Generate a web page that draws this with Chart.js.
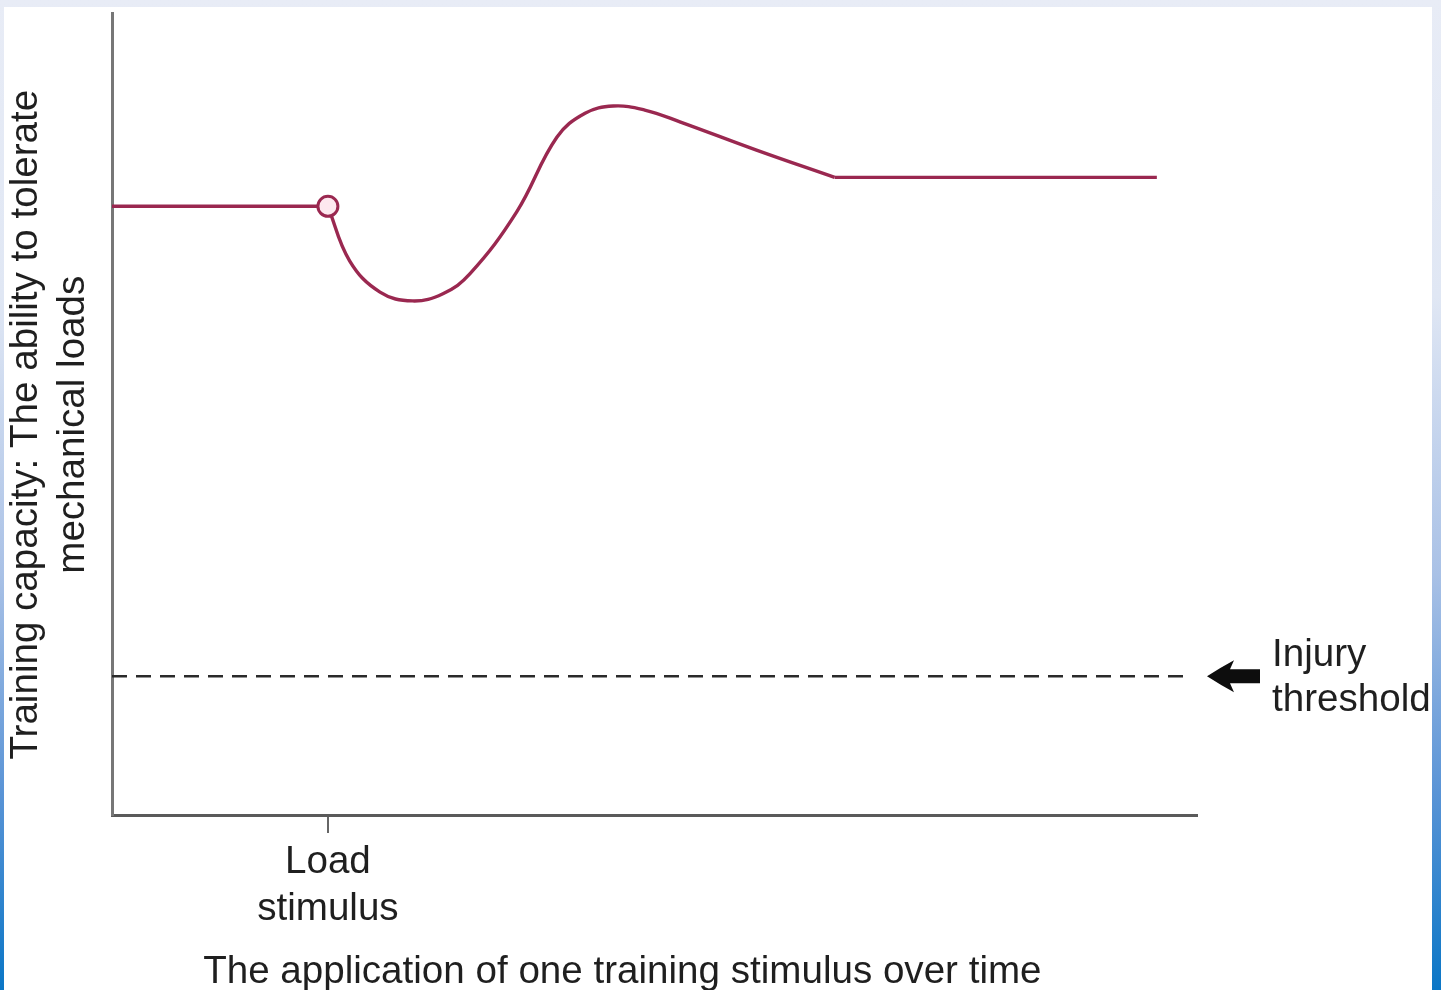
<!DOCTYPE html>
<html>
<head>
<meta charset="utf-8">
<script src="https://cdn.jsdelivr.net/npm/chart.js@4/dist/chart.umd.min.js"></script>
<style>
  html, body { margin: 0; padding: 0; }
  body {
    width: 1441px; height: 990px; overflow: hidden; position: relative;
    background: linear-gradient(to bottom, #e8ecf6 0%, #e0e7f4 30%, #a9c1e6 58%, #5a94d6 80%, #0a76c6 100%);
  }
  #panel { position: absolute; left: 4px; top: 7px; width: 1428px; height: 983px; background: #ffffff; overflow: hidden; }
  #c { position: absolute; left: -4px; top: -7px; }
</style>
</head>
<body>
<div id="panel"><canvas id="c" width="1441" height="990"></canvas></div>
<script>
// ---- data ----
const timeRange = [0, 100];
const capacityRange = [0, 100];
const stimulusTime = 19.9;
const baselineTimes = [0, 19.9];
const baselineCapacity = 75.9;
const responseTimes = [19.9, 21.9, 24.7, 27.7, 30.5, 33.0, 37.3, 41.0, 43.6, 46.2, 49.1, 52.4, 59.4, 66.6];
const responseCapacity = [75.9, 69.1, 65.2, 64.1, 65.0, 67.5, 75.2, 84.5, 87.5, 88.4, 87.9, 86.4, 82.9, 79.5];
const plateauTimes = [66.6, 96.3];
const plateauCapacity = 79.5;
const thresholdTimes = [0, 99.5];
const injuryThreshold = 17.3;
const tickLabels = [['Load', 'stimulus']];
const xTitle = 'The application of one training stimulus over time';
const yTitle = ['Training capacity: The ability to tolerate', 'mechanical loads'];
const thresholdLabel = ['Injury', 'threshold'];

// ---- styles ----
const FONT = '"Liberation Sans", Arial, Helvetica, sans-serif';
const FSIZE = 38.6;
const LH = 1.218;
const TEXT = '#1f1f1f';
const CURVE = '#9a2850';
const AXIS = '#666666';

const pts = (xs, ys) => xs.map((x, i) => ({ x, y: Array.isArray(ys) ? ys[i] : ys }));

const thresholdPlugin = {
  id: 'thresholdNote',
  afterDatasetsDraw(chart) {
    const { ctx, chartArea, scales } = chart;
    const y = scales.y.getPixelForValue(injuryThreshold);
    const r = chartArea.right;
    ctx.save();
    ctx.fillStyle = '#0d0d0d';
    ctx.beginPath();
    ctx.moveTo(r + 10, y);
    ctx.quadraticCurveTo(r + 24, y - 9, r + 37, y - 16);
    ctx.lineTo(r + 33, y - 7);
    ctx.lineTo(r + 63, y - 7);
    ctx.lineTo(r + 63, y + 7);
    ctx.lineTo(r + 33, y + 7);
    ctx.lineTo(r + 37, y + 16);
    ctx.quadraticCurveTo(r + 24, y + 9, r + 10, y);
    ctx.closePath();
    ctx.fill();
    ctx.fillStyle = TEXT;
    ctx.font = FSIZE + 'px ' + FONT;
    ctx.textAlign = 'left';
    ctx.textBaseline = 'alphabetic';
    ctx.fillText(thresholdLabel[0], r + 75, y - 10);
    ctx.fillText(thresholdLabel[1], r + 75, y + 35);
    ctx.restore();
  }
};

new Chart(document.getElementById('c'), {
  type: 'line',
  data: {
    datasets: [
      { data: pts([stimulusTime], baselineCapacity), showLine: false, order: -1,
        pointRadius: 10, pointBorderWidth: 3, pointBorderColor: CURVE, pointBackgroundColor: '#fde8ef' },
      { data: pts(baselineTimes, baselineCapacity), borderColor: CURVE, borderWidth: 3.4, pointRadius: 0, tension: 0 },
      { data: pts(responseTimes, responseCapacity), borderColor: CURVE, borderWidth: 3.4, pointRadius: 0, tension: 0.4 },
      { data: pts(plateauTimes, plateauCapacity), borderColor: CURVE, borderWidth: 3.4, pointRadius: 0, tension: 0 },
      { data: pts(thresholdTimes, injuryThreshold), borderColor: '#2a2a2a', borderWidth: 2.5, borderDash: [15, 9],
        pointRadius: 0, tension: 0 }
    ]
  },
  options: {
    responsive: false,
    animation: false,
    events: [],
    layout: { padding: { left: 0, top: 7, right: 244, bottom: 0 } },
    plugins: { legend: { display: false }, tooltip: { enabled: false } },
    scales: {
      x: {
        type: 'linear', min: timeRange[0], max: timeRange[1],
        afterFit: s => { s.height = 175; },
        afterBuildTicks: s => { s.ticks = [{ value: stimulusTime }]; },
        ticks: { autoSkip: false, maxRotation: 0, padding: 6, color: TEXT,
                 font: { family: FONT, size: FSIZE, lineHeight: LH },
                 callback: (v, i) => tickLabels[i] },
        grid: { display: true, drawOnChartArea: false, drawTicks: true, tickLength: 18, color: AXIS, lineWidth: 2 },
        border: { display: true, color: '#5a5a5a', width: 3 },
        title: { display: true, text: xTitle + '      ', color: TEXT, padding: { top: 0, bottom: -6 },
                 font: { family: FONT, size: FSIZE, lineHeight: LH } }
      },
      y: {
        type: 'linear', min: capacityRange[0], max: capacityRange[1],
        afterFit: s => { s.width = 112; },
        ticks: { display: false },
        grid: { display: false, drawTicks: false },
        border: { display: true, color: '#777777', width: 3 },
        title: { display: true, text: yTitle.map(t => t + '  '), color: TEXT, padding: { top: 3, bottom: 0 },
                 font: { family: FONT, size: FSIZE, lineHeight: LH } }
      }
    }
  },
  plugins: [thresholdPlugin]
});
</script>
</body>
</html>
